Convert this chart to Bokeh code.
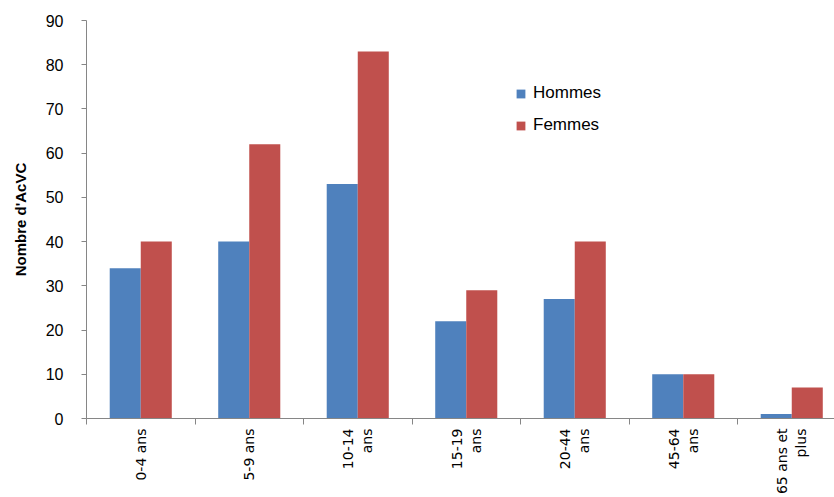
import numpy as np
from bokeh.plotting import figure
from bokeh.models import FixedTicker, Range1d, Legend, LegendItem
from bokeh.embed import file_html
from bokeh.resources import INLINE

categories = ["0-4 ans", "5-9 ans", "10-14\nans", "15-19\nans", "20-44\nans", "45-64\nans", "65 ans et\nplus"]
hommes = [34, 40, 53, 22, 27, 10, 1]
femmes = [40, 62, 83, 29, 40, 10, 7]
y_ticks = [0, 10, 20, 30, 40, 50, 60, 70, 80, 90]

blue = "#4F81BD"
red = "#C0504D"
bw = 0.286

n = len(categories)
centers = np.arange(n) + 0.5

p = figure(width=834, height=497, output_backend="svg", toolbar_location=None,
           x_range=Range1d(0, 6.894), y_range=Range1d(0, 90),
           min_border_left=86, min_border_top=20, min_border_right=0, min_border_bottom=0)
p.outline_line_color = None
p.xgrid.visible = False
p.ygrid.visible = False

rb = p.vbar(x=centers - bw / 2, top=hommes, width=bw, bottom=0, fill_color=blue, line_color=None)
rr = p.vbar(x=centers + bw / 2, top=femmes, width=bw, bottom=0, fill_color=red, line_color=None)

# x axis
p.xaxis.ticker = FixedTicker(ticks=list(centers), minor_ticks=list(range(n + 1)))
p.xaxis.major_label_overrides = {float(c): lab for c, lab in zip(centers, categories)}
p.xaxis.major_tick_line_color = None
p.xaxis.minor_tick_in = 0
p.xaxis.minor_tick_out = 6
p.xaxis.minor_tick_line_color = "#868686"
p.xaxis.axis_line_color = "#868686"
p.xaxis.major_label_orientation = np.pi / 2
p.xaxis.major_label_text_font = "DejaVu Sans"
p.xaxis.major_label_text_font_size = "14px"
p.xaxis.major_label_text_color = "#000000"
p.xaxis.major_label_standoff = 4

# y axis
p.yaxis.ticker = FixedTicker(ticks=y_ticks)
p.yaxis.minor_tick_line_color = None
p.yaxis.major_tick_in = 0
p.yaxis.major_tick_out = 5
p.yaxis.major_tick_line_color = "#868686"
p.yaxis.axis_line_color = "#868686"
p.yaxis.major_label_text_font = "Liberation Sans"
p.yaxis.major_label_text_font_size = "16px"
p.yaxis.major_label_text_color = "#000000"
p.yaxis.major_label_standoff = 18
p.yaxis.axis_label = "Nombre d'AcVC"
p.yaxis.axis_label_text_font = "Liberation Sans"
p.yaxis.axis_label_text_font_size = "15px"
p.yaxis.axis_label_text_font_style = "bold"
p.yaxis.axis_label_text_color = "#000000"
p.yaxis.axis_label_standoff = 14

legend = Legend(items=[LegendItem(label="Hommes", renderers=[rb]),
                       LegendItem(label="Femmes", renderers=[rr])],
                location=(429, 283))
legend.border_line_color = None
legend.background_fill_alpha = 0
legend.glyph_width = 11
legend.glyph_height = 11
legend.label_text_font = "Liberation Sans"
legend.label_text_font_size = "17px"
legend.label_text_color = "#000000"
legend.spacing = 12
legend.padding = 5
legend.label_standoff = 7
p.add_layout(legend)

open("out.html", "w").write(file_html(p, INLINE))
